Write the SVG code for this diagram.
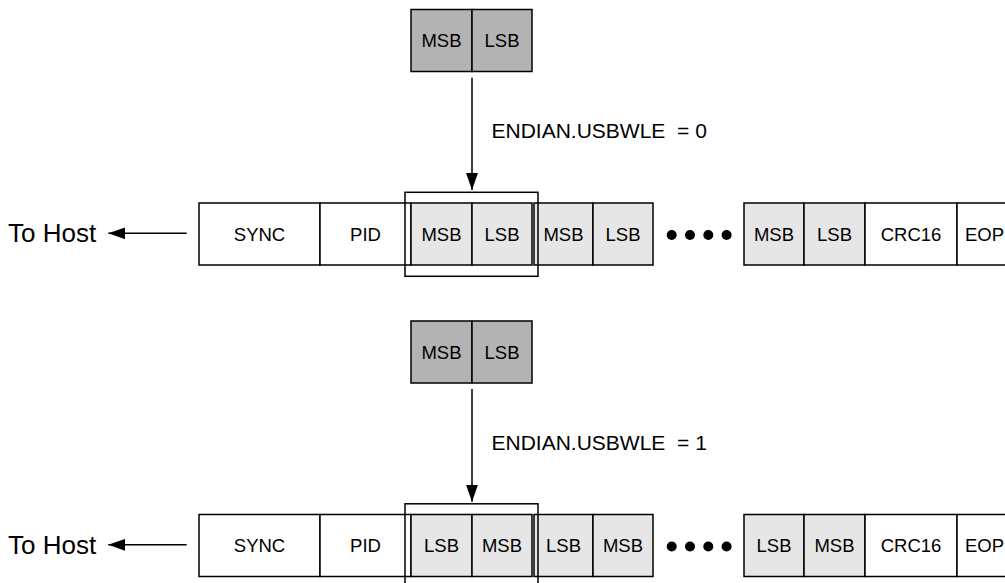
<svg xmlns="http://www.w3.org/2000/svg" width="1005" height="583" viewBox="0 0 1005 583">
<style>
text{font-family:"Liberation Sans",Arial,sans-serif;fill:#000}
.c{stroke:#000;stroke-width:1.5}
.w{fill:#fff}
.l{fill:#e6e6e6}
.d{fill:#b3b3b3}
.t{font-size:18.5px;text-anchor:middle}
.h{fill:none;stroke:#000;stroke-width:1.5}
.lab{font-size:21px;white-space:pre}
.host{font-size:26px}
.ln{stroke:#000;stroke-width:1.5;fill:none}
</style>
<defs>
<marker id="ah" viewBox="0 0 17 12" refX="17" refY="6" markerWidth="17" markerHeight="12" markerUnits="userSpaceOnUse" orient="auto">
<path d="M0,0L17,6L0,12z" fill="#000"/>
</marker>
<g id="row">
<rect class="c w" x="199" y="203" width="121" height="62"/>
<text class="t" x="259.5" y="240.6">SYNC</text>
<rect class="c w" x="320" y="203" width="91" height="62"/>
<text class="t" x="365.5" y="240.6">PID</text>
<rect class="c l" x="411" y="203" width="61" height="62"/>
<rect class="c l" x="472" y="203" width="60" height="62"/>
<rect class="c l" x="534" y="203" width="59" height="62"/>
<rect class="c l" x="593" y="203" width="60" height="62"/>
<circle cx="671.7" cy="235" r="5"/>
<circle cx="690" cy="235" r="5"/>
<circle cx="708.3" cy="235" r="5"/>
<circle cx="726.6" cy="235" r="5"/>
<rect class="c l" x="744" y="203" width="60" height="62"/>
<rect class="c l" x="804" y="203" width="61" height="62"/>
<rect class="c w" x="865" y="203" width="92" height="62"/>
<text class="t" x="911" y="240.6">CRC16</text>
<rect class="c w" x="957" y="203" width="60" height="62"/>
<text class="t" x="957" y="240.6" style="text-anchor:start" dx="8">EOP</text>
<rect class="h" x="405" y="192.3" width="133" height="84"/>
<text class="host" x="8" y="242">To Host</text>
</g>
<g id="word">
<rect class="c d" x="411" y="9.5" width="61" height="62"/>
<rect class="c d" x="472" y="9.5" width="60" height="62"/>
</g>
</defs>

<g id="case0">
<g id="source0">
<use href="#word"/>
<text class="t" x="441.5" y="47">MSB</text>
<text class="t" x="502" y="47">LSB</text>
</g>
<g id="packet0">
<use href="#row"/>
<text class="t" x="441.5" y="240.6">MSB</text>
<text class="t" x="502" y="240.6">LSB</text>
<text class="t" x="563.5" y="240.6">MSB</text>
<text class="t" x="623" y="240.6">LSB</text>
<text class="t" x="774" y="240.6">MSB</text>
<text class="t" x="834.5" y="240.6">LSB</text>
</g>
<text id="label0" class="lab" x="491.5" y="138.3">ENDIAN.USBWLE  = 0</text>
</g>

<g id="case1">
<g id="source1" transform="translate(0,311.5)">
<use href="#word"/>
<text class="t" x="441.5" y="47">MSB</text>
<text class="t" x="502" y="47">LSB</text>
</g>
<g id="packet1" transform="translate(0,311.5)">
<use href="#row"/>
<text class="t" x="441.5" y="240.6">LSB</text>
<text class="t" x="502" y="240.6">MSB</text>
<text class="t" x="563.5" y="240.6">LSB</text>
<text class="t" x="623" y="240.6">MSB</text>
<text class="t" x="774" y="240.6">LSB</text>
<text class="t" x="834.5" y="240.6">MSB</text>
</g>
<text id="label1" class="lab" x="491.5" y="449.8">ENDIAN.USBWLE  = 1</text>
</g>

<g id="connectors">
<line class="ln" x1="472" y1="77.7" x2="472" y2="190" marker-end="url(#ah)"/>
<line class="ln" x1="186.7" y1="233.3" x2="108.3" y2="233.3" marker-end="url(#ah)"/>
<line class="ln" x1="472" y1="389" x2="472" y2="501.7" marker-end="url(#ah)"/>
<line class="ln" x1="186.7" y1="544.8" x2="108.3" y2="544.8" marker-end="url(#ah)"/>
</g>
</svg>
